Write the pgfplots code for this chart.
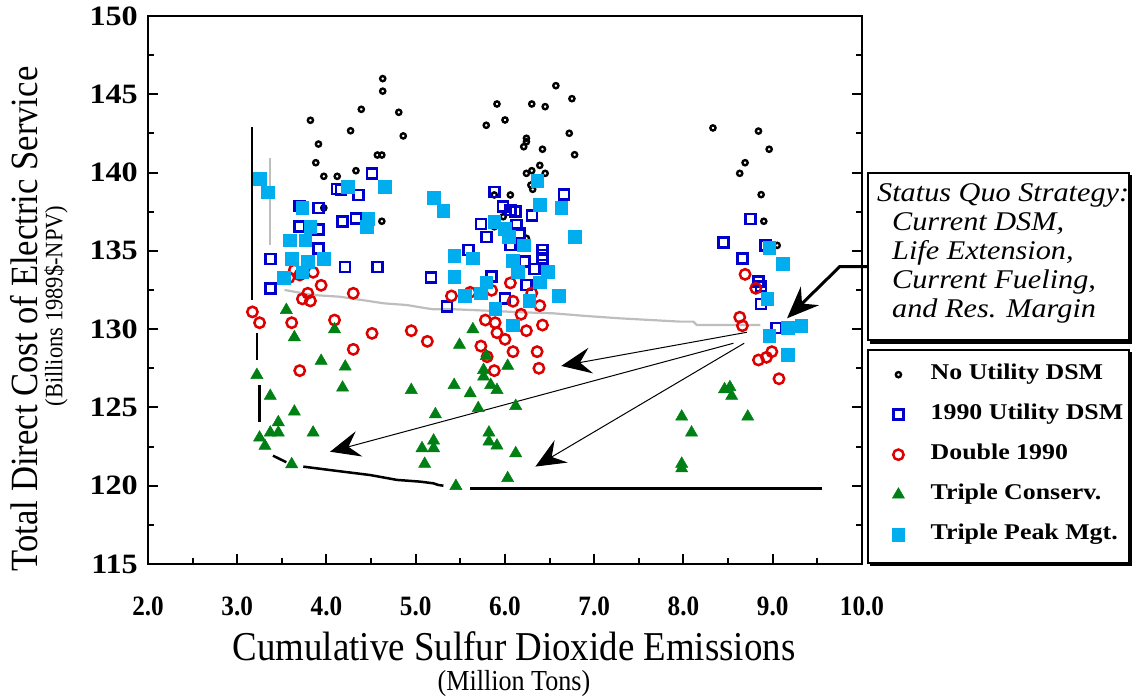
\documentclass[border=0pt]{standalone}
\usepackage{fontspec}
\setmainfont{Liberation Serif}
\newfontfamily\condserif[FakeStretch=0.9]{Liberation Serif}
\newfontfamily\wideserif[FakeStretch=1.15]{Liberation Serif}
\newfontfamily\annoserif[FakeStretch=1.12]{Liberation Serif}
\usepackage{pgfplots}
\pgfplotsset{compat=1.18}
\usetikzlibrary{arrows.meta}
\definecolor{cBlue}{RGB}{0,0,204}
\definecolor{cRed}{RGB}{221,0,0}
\definecolor{cGreen}{RGB}{0,128,20}
\definecolor{cCyan}{RGB}{0,174,239}
\definecolor{cGray}{RGB}{190,190,190}
\begin{document}
\begin{tikzpicture}[x=1pt,y=1pt]
\useasboundingbox (0,0) rectangle (1133,696);
\begin{axis}[
 at={(148pt,132pt)}, anchor=south west, scale only axis, width=714pt, height=548pt,
 xmin=2, xmax=10, ymin=115, ymax=150, clip=false,
 axis line style={line width=2.5pt},
 xtick={2,3,...,10}, xticklabels={2.0,3.0,4.0,5.0,6.0,7.0,8.0,9.0,10.0},
 minor xtick={2.5,3.5,...,9.5},
 ytick={115,120,...,150}, yticklabels={115,120,125,130,135,140,145,150},
 minor ytick={117.5,122.5,...,147.5},
 tick align=inside, xtick pos=lower, ytick pos=both, yticklabel pos=lower,
 major tick length=10pt, minor tick length=6pt,
 tick style={black, line width=2pt},
 xticklabel style={font=\condserif\bfseries\fontsize{28}{30}\selectfont, anchor=north, inner sep=0pt, yshift=-33pt},
 yticklabel style={font=\wideserif\bfseries\fontsize{28}{30}\selectfont, anchor=east, inner sep=0pt, xshift=-10pt},
 legend style={at={(axis description cs:1.0378,0.3659)}, anchor=north west, draw=none, fill=none, inner sep=0pt, row sep=18pt, column sep=23pt, font=\wideserif\bfseries\fontsize{22.5}{25}\selectfont, nodes={inner sep=0pt, text height=16pt, text depth=6pt}},
 legend cell align=left,
 legend image code/.code={\path (0pt,-1pt) (16pt,1pt); \draw[mark repeat=2,mark phase=2,#1] plot coordinates {(0pt,0pt) (8pt,0pt) (16pt,0pt)};},
]
% frontier lines
\addplot[black, line width=2.5pt, forget plot] coordinates {(3.165,142.94) (3.165,131.86)};
\addplot[black, line width=2.5pt, forget plot] coordinates {(3.22,129.75) (3.22,128.03)};
\addplot[black, line width=2.5pt, forget plot] coordinates {(3.25,126.43) (3.25,124.07)};
\addplot[black, line width=2.5pt, forget plot] coordinates {(3.40,121.92) (3.55,121.5)};
\addplot[black, line width=2.5pt, forget plot] coordinates {(3.74,121.22) (4.04,121.0) (4.49,120.68) (4.79,120.37) (5.05,120.26) (5.20,120.15) (5.25,120.05) (5.31,120.0)};
\addplot[black, line width=2.5pt, forget plot] coordinates {(5.61,119.83) (9.55,119.83)};
\addplot[cGray, line width=2.2pt, forget plot] coordinates {(3.37,140.91) (3.37,135.37)};
\addplot[cGray, line width=2.2pt, forget plot] coordinates {(3.53,132.5) (3.85,132.18) (4.15,132.07) (4.34,131.91) (4.64,131.65) (4.90,131.54) (5.12,131.33) (5.20,131.27) (5.42,131.27) (5.80,131.18) (6.17,131.08) (6.54,131.01) (6.91,130.84) (7.29,130.69) (7.96,130.48) (8.11,130.48) (8.15,130.26) (8.86,130.26)};
% No Utility DSM
\addplot[only marks, mark=o, mark size=2.6pt, black, line width=2.4pt] coordinates {
(4.63,146.0) (4.63,145.2) (4.39,144.04) (4.81,143.85) (3.82,143.34) (4.27,142.67) (4.86,142.34) (3.91,141.82) (4.57,141.12) (4.62,141.12) (3.88,140.63) (4.33,140.12) (3.97,139.76) (4.12,139.76) (3.97,137.74) (4.62,136.89)
(6.57,145.55) (6.75,144.72) (5.91,144.38) (6.30,144.38) (6.45,144.21) (5.79,143.02) (6.00,143.36) (6.72,142.51) (6.24,142.19) (6.24,141.97) (6.21,141.65) (6.42,141.49) (6.78,141.14) (6.39,140.46) (6.30,140.12) (6.24,139.95) (6.45,139.95) (6.29,139.2) (6.31,138.93) (6.06,138.57) (5.88,138.57) (5.88,136.54) (5.98,137.18) (6.24,135.80)
(8.33,142.85) (8.84,142.65) (8.96,141.49) (8.69,140.63) (8.63,139.95) (8.87,138.59) (8.90,136.89) (9.05,135.35)};
\addlegendentry{No Utility DSM}
% 1990 Utility DSM
\addplot[only marks, mark=square, mark size=5pt, cBlue, line width=2.5pt] coordinates {
(4.51,139.93) (4.12,138.95) (4.16,138.9) (4.36,138.57) (3.70,137.88) (3.91,137.74) (3.70,136.54) (3.91,136.37) (4.18,136.86) (4.33,137.08) (3.91,135.16) (3.37,134.48) (4.21,133.97) (4.57,133.97) (5.17,133.29) (3.37,132.61) (5.35,131.44)
(5.88,138.76) (6.66,138.59) (5.98,137.82) (6.06,137.6) (6.12,137.5) (6.30,137.25) (5.73,136.72) (5.79,135.90) (6.13,136.65) (6.16,136.12) (6.06,135.37) (5.59,135.05) (6.42,135.05) (6.42,134.73) (6.42,134.52) (6.22,134.31) (6.33,133.84) (5.85,133.35) (6.24,132.82) (6.00,131.97)
(8.75,137.05) (8.45,135.52) (8.92,135.35) (8.66,134.50) (8.84,133.03) (8.87,132.71) (8.87,131.61) (9.04,130.07)};
\addlegendentry{1990 Utility DSM}
% Double 1990
\addplot[only marks, mark=o, mark size=5.2pt, cRed, line width=2.5pt] coordinates {
(3.64,133.78) (3.70,133.46) (3.85,133.63) (3.58,133.29) (3.94,132.8) (3.79,132.29) (3.73,131.93) (3.82,131.80) (4.30,132.29) (3.17,131.1) (3.25,130.41) (3.61,130.41) (4.09,130.58) (4.51,129.73) (4.95,129.90) (5.13,129.22) (4.30,128.71) (3.70,127.35)
(5.40,132.12) (5.61,132.35) (5.85,132.48) (6.06,132.95) (6.30,132.31) (6.09,131.78) (6.39,131.5) (5.78,130.58) (5.89,130.41) (6.18,130.95) (6.42,130.26) (5.91,129.77) (6.00,129.35) (6.24,129.90) (5.73,128.92) (5.80,128.24) (6.09,128.56) (6.36,128.56) (5.88,127.35) (6.38,127.50)
(8.69,133.50) (8.81,132.61) (8.63,130.76) (8.66,130.22) (8.84,128.03) (8.93,128.20) (8.99,128.56) (9.07,126.83)};
\addlegendentry{Double 1990}
% Triple Conserv.
\addplot[only marks, mark=triangle*, mark size=7pt, cGreen, mark options={fill=cGreen, draw=cGreen, line width=0.5pt}] coordinates {
(3.55,131.22) (4.09,129.99) (3.64,129.48) (3.94,127.97) (4.21,127.60) (3.22,127.07) (4.18,126.26) (4.95,126.11) (3.37,125.73) (3.64,124.73) (3.46,124.05) (3.37,123.39) (3.46,123.39) (3.85,123.39) (3.25,123.07) (3.31,122.54) (3.61,121.37)
(5.22,124.56) (5.20,122.88) (5.07,122.39) (5.20,122.39) (5.10,121.39) (5.45,119.98) (5.64,129.99) (5.49,128.99) (5.79,128.28) (6.03,127.65) (5.76,127.39) (5.76,126.96) (5.84,126.43) (5.91,126.11) (5.43,126.43) (5.61,125.90) (5.70,124.95) (6.12,125.09) (5.82,123.39) (5.82,122.81) (5.91,122.56) (6.12,122.07) (6.03,120.48)
(8.46,126.16) (8.52,126.29) (8.54,125.73) (8.72,124.41) (7.98,124.41) (8.09,123.39) (7.98,121.4) (7.98,121.1)};
\addlegendentry{Triple Conserv.}
% Triple Peak Mgt.
\addplot[only marks, mark=square*, mark size=6.3pt, cCyan, mark options={fill=cCyan, draw=cCyan, line width=0.5pt}] coordinates {
(3.25,139.59) (3.34,138.74) (4.24,139.10) (4.65,139.10) (3.73,137.74) (3.82,136.54) (4.47,137.05) (4.45,136.54) (3.59,135.69) (3.76,135.69) (3.61,134.48) (3.79,134.31) (3.97,134.48) (3.73,133.63) (3.52,133.29) (5.20,138.40) (5.31,137.57)
(6.36,139.46) (6.39,137.93) (6.63,137.76) (5.88,136.86) (6.00,136.40) (6.04,135.90) (6.21,135.37) (6.78,135.90) (5.43,134.69) (5.64,134.52) (6.09,134.37) (6.14,133.67) (6.48,133.67) (5.43,133.35) (5.79,132.99) (6.39,132.99) (5.73,132.29) (5.55,132.14) (6.27,131.80) (6.60,132.12) (5.89,131.3) (6.09,130.26)
(8.96,135.18) (9.11,134.16) (8.94,131.93) (9.17,130.07) (9.32,130.22) (8.96,129.56) (9.17,128.35)};
\addlegendentry{Triple Peak Mgt.}
% arrows
\draw[line width=1pt, -{Stealth[length=30pt,width=26pt,inset=11pt]}] (axis cs:8.71,129.80) -- (axis cs:6.63,127.65);
\draw[line width=1pt, -{Stealth[length=30pt,width=26pt,inset=11pt]}] (axis cs:8.56,129.10) -- (axis cs:4.04,122.17);
\draw[line width=1pt, -{Stealth[length=30pt,width=26pt,inset=11pt]}] (axis cs:8.68,129.10) -- (axis cs:6.34,121.22);
\draw[line width=3pt, -{Stealth[length=32pt,width=26pt,inset=11pt]}] (axis cs:10.07,133.99) -- (axis cs:9.75,133.99) -- (axis cs:9.16,130.69);
\end{axis}
% boxes
\draw[line width=1.5pt] (868,523) rectangle (1129,356);
\draw[line width=3.5pt] (870,354) -- (1130.5,354) -- (1130.5,521);
\draw[line width=1.5pt] (868,346) rectangle (1129,133);
\draw[line width=3pt] (870,131.5) -- (1130.5,131.5) -- (1130.5,344);
% annotation
\begin{scope}[every node/.style={anchor=base west, inner sep=0pt, font=\annoserif\itshape\fontsize{27}{29}\selectfont}]
\node at (877,494) {Status Quo Strategy:};
\node at (892,465) {Current DSM,};
\node at (892,436) {Life Extension,};
\node at (892,407) {Current Fueling,};
\node at (892,378) {and Res. Margin};
\end{scope}
% axis titles
\node[rotate=90, inner sep=0pt, font=\condserif\fontsize{38.5}{40}\selectfont] at (24,377) {Total Direct Cost of Electric Service};
\node[rotate=90, inner sep=0pt, font=\condserif\fontsize{25}{28}\selectfont] at (56,390) {(Billions 1989\$-NPV)};
\node[inner sep=0pt, font=\condserif\fontsize{41}{43}\selectfont] at (514,50) {Cumulative Sulfur Dioxide Emissions};
\node[inner sep=0pt, font=\condserif\fontsize{29}{32}\selectfont] at (514,12) {(Million Tons)};
\end{tikzpicture}
\end{document}
